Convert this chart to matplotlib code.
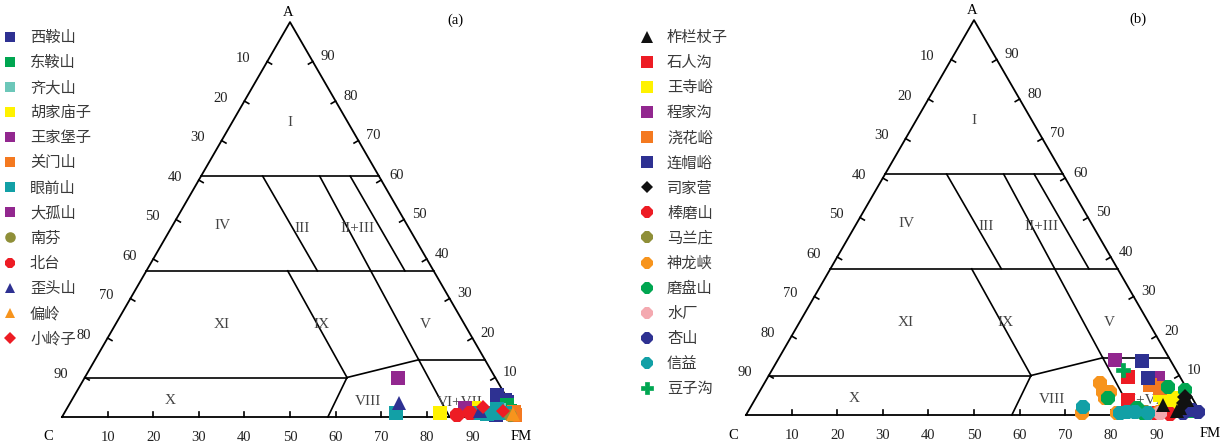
import numpy as np
import matplotlib
matplotlib.use("Agg")
import matplotlib.pyplot as plt

plt.rcParams['font.family'] = ['Noto Sans CJK SC', 'DejaVu Sans']

# A - C - FM percentages for each locality, panel (a)
names_a = ['西鞍山', '东鞍山', '齐大山', '胡家庙子', '王家堡子', '关门山', '眼前山',
           '大孤山', '南芬', '北台', '歪头山', '偏岭', '小岭子']
colors_a = ['#2e3192', '#00a651', '#6cc7b9', '#fff200', '#92278f', '#f47920', '#12a0a6',
            '#92278f', '#8f8f38', '#ed1c24', '#2e3192', '#f7941d', '#ed1c24']
markers_a = ['s', 's', 's', 's', 's', 's', 's', 's', 'o', '8', '^', '^', 'D']
points_a = [
    [(5.6, 1.8, 92.6), (4.3, 0.7, 95.0), (3.8, 0.5, 95.7), (1.0, 6.5, 92.5), (0.5, 4.5, 95.0)],
    [(3.0, 0.9, 96.1), (1.5, 1.0, 97.5)],
    [(1.8, 3.2, 95.0)],
    [(1.0, 16.6, 82.4), (2.2, 8.5, 89.3)],
    [(2.3, 10.5, 87.2)],
    [(1.3, 0.2, 98.5), (0.5, 0.5, 99.0)],
    [(1.0, 26.3, 72.7), (1.0, 8.9, 90.1), (1.0, 4.5, 94.5), (1.0, 2.4, 96.6),
     (0.8, 6.5, 92.7), (2.0, 3.5, 94.5)],
    [(9.9, 21.4, 68.7)],
    [(0.5, 1.5, 98.0)],
    [(0.5, 13.1, 86.4), (1.0, 10.0, 89.0)],
    [(3.5, 24.4, 72.1), (1.5, 7.5, 91.0)],
    [(0.8, 0.7, 98.5)],
    [(2.5, 6.4, 91.1), (1.5, 2.5, 96.0)],
]

# panel (b)
names_b = ['柞栏杖子', '石人沟', '王寺峪', '程家沟', '浇花峪', '连帽峪', '司家营', '棒磨山',
           '马兰庄', '神龙峡', '磨盘山', '水厂', '杏山', '信益', '豆子沟']
colors_b = ['#111111', '#ed1c24', '#fff200', '#92278f', '#f47920', '#2e3192', '#111111',
            '#ed1c24', '#8f8f38', '#f7941d', '#00a651', '#f4a9b0', '#2e3192', '#12a0a6',
            '#00a651']
markers_b = ['^', 's', 's', 's', 's', 's', 'D', '8', '8', '8', '8', '8', '8', '8', 'P']
points_b = [
    [(2.5, 7.3, 90.2), (3.8, 1.4, 94.8), (1.8, 3.9, 94.3), (1.0, 5.0, 94.0)],
    [(9.6, 11.4, 79.0), (3.8, 14.3, 81.9)],
    [(5.1, 6.7, 88.2), (3.8, 5.1, 91.1), (4.3, 3.1, 92.6), (2.5, 6.9, 90.6), (2.0, 4.9, 93.1)],
    [(13.9, 12.1, 74.0), (9.4, 4.9, 85.7)],
    [(7.6, 7.6, 84.8), (6.8, 5.8, 87.4)],
    [(13.7, 6.3, 80.0), (9.4, 7.1, 83.5)],
    [(4.6, 1.4, 94.0), (3.0, 2.5, 94.5)],
    [(0.5, 10.0, 89.5), (0.3, 6.8, 92.9), (1.0, 15.0, 84.0)],
    [(0.8, 12.0, 87.2)],
    [(8.1, 18.3, 73.6), (5.8, 18.8, 75.4), (5.8, 17.3, 76.9), (4.3, 19.1, 76.6),
     (0.5, 26.1, 73.4), (0.5, 18.5, 81.0), (0.8, 9.0, 90.2), (1.5, 3.0, 95.5)],
    [(4.3, 18.5, 77.2), (7.1, 3.9, 89.0), (6.3, 0.5, 93.2), (1.8, 13.4, 84.8),
     (0.5, 12.6, 86.9), (1.0, 2.0, 97.0)],
    [(0.5, 9.0, 90.5)],
    [(1.3, 1.5, 97.2), (0.8, 0.5, 98.7), (0.5, 4.0, 95.5)],
    [(2.0, 25.1, 72.9), (0.5, 17.8, 81.7), (0.7, 16.0, 83.3), (0.8, 14.2, 85.0),
     (0.5, 11.5, 88.0)],
    [(11.4, 11.6, 77.0)],
]

# field boundaries, each segment given as two (A, C) end points
fields = [
    ((61, 39), (61, 0)),
    ((37, 63), (37, 0)),
    ((61, 25.5), (37, 25.5)),
    ((61, 13), (0, 15)),
    ((61, 6.3), (37, 6.3)),
    ((37, 32), (10, 32.5)),
    ((10, 90), (10, 32.5)),
    ((10, 32.5), (0, 41.7)),
    ((10, 32.5), (14.5, 14.5)),
    ((14.5, 14.5), (14.5, 0)),
]
field_names = ['I', 'IV', 'III', 'II+III', 'XI', 'IX', 'V', 'X', 'VIII', 'VI+VII']
field_xy = [(50, 64.5), (35.1, 42.1), (52.6, 41.4), (64.9, 41.4), (35.1, 20.2),
            (57.0, 20.2), (79.6, 20.2), (23.7, 3.7), (67.1, 3.3), (87.3, 3.1)]

grid_vals = [10, 20, 30, 40, 50, 60, 70, 80, 90]

H = np.sqrt(3) / 2


def tern(a, c):
    f = 100 - a - c
    return f + a / 2, a * H


def draw_frame(ax, title, title_xy, c_xy, fm_xy):
    ax.plot([0, 100, 50, 0], [0, 0, 100 * H, 0], color='black', lw=1.3, zorder=2)
    for p, q in fields:
        x0, y0 = tern(*p)
        x1, y1 = tern(*q)
        ax.plot([x0, x1], [y0, y1], color='black', lw=1.2, zorder=2)
    tk = 1.1
    serif = 'Liberation Serif'
    for v in grid_vals:
        # bottom edge: FM
        ax.plot([v, v], [0, tk], color='black', lw=1.2)
        ax.text(v, -4.5, str(v), ha='center', va='center', fontsize=10.5,
                family=serif, color='#222222')
        # left edge: C
        x, y = tern(100 - v, v)
        ax.plot([x, x + tk * H], [y, y - tk * 0.5], color='black', lw=1.2)
        ax.text(x - 5.2, y + 0.6, str(v), ha='center', va='center', fontsize=10.5,
                family=serif, color='#222222')
        # right edge: A
        x, y = tern(v, 0)
        ax.plot([x, x - tk * H], [y, y - tk * 0.5], color='black', lw=1.2)
        ax.text(x + 1.7, y + 1.1, str(v), ha='left', va='center', fontsize=10.5,
                family=serif, color='#222222')
    ax.text(49.5, 88.6, 'A', ha='center', va='center', fontsize=10.5, family=serif)
    ax.text(c_xy[0], c_xy[1], 'C', ha='center', va='center', fontsize=10.5, family=serif)
    ax.text(fm_xy[0], fm_xy[1], 'FM', ha='center', va='center', fontsize=10.5, family=serif)
    ax.text(title_xy[0], title_xy[1], title, ha='center', va='center', fontsize=10.5,
            family=serif)
    for name, (x, y) in zip(field_names, field_xy):
        ax.text(x, y, name, ha='center', va='center', fontsize=11, family=serif,
                color='#444444')


def draw_points(ax, names, colors, markers, points, ms):
    for name, col, mk, pts in zip(names, colors, markers, points):
        xs, ys = zip(*[tern(a, c) for a, c, f in pts])
        size = ms
        if mk == 'D':
            size = ms * 0.75
        elif mk == '8':
            size = ms * 1.1
        # black samples sit on top of the crowded FM corner
        z = 4 if col == '#111111' else 3
        ax.plot(xs, ys, linestyle='none', marker=mk, color=col, markersize=size,
                markeredgewidth=0 if mk != 'P' else 0.5, label=name, zorder=z)


fig = plt.figure(figsize=(12.29, 4.48), dpi=100)
s = 4.56

axL = fig.add_axes([0, 0, 615 / 1229, 1])
axL.set_xlim(-62 / s, (615 - 62) / s)
axL.set_ylim(-31 / s, 417 / s)
axL.set_aspect('equal', adjustable='box')
axL.axis('off')

axR = fig.add_axes([615 / 1229, 0, 614 / 1229, 1])
axR.set_xlim(-131 / s, (614 - 131) / s)
axR.set_ylim(-33 / s, 415 / s)
axR.set_aspect('equal', adjustable='box')
axR.axis('off')

draw_frame(axL, '(a)', (86.2, 87.1), (-3.1, -4.2), (100.6, -4.2))
draw_frame(axR, '(b)', (86.0, 86.8), (-2.9, -4.4), (101.8, -4.0))

draw_points(axL, names_a, colors_a, markers_a, points_a, 9.5)
draw_points(axR, names_b, colors_b, markers_b, points_b, 10.5)

for ax, anchor in [(axL, (4 / 615, 1 - 29 / 448)), (axR, (26 / 614, 1 - 29 / 448))]:
    leg = ax.legend(loc='upper left', bbox_to_anchor=anchor, frameon=False,
                    fontsize=11, borderaxespad=0, borderpad=0, handlelength=0.8,
                    handletextpad=0.9, labelspacing=0.53, markerscale=0.8)
    for t in leg.get_texts():
        t.set_color('#3a3a3a')

fig.savefig('out.png', dpi=100)
